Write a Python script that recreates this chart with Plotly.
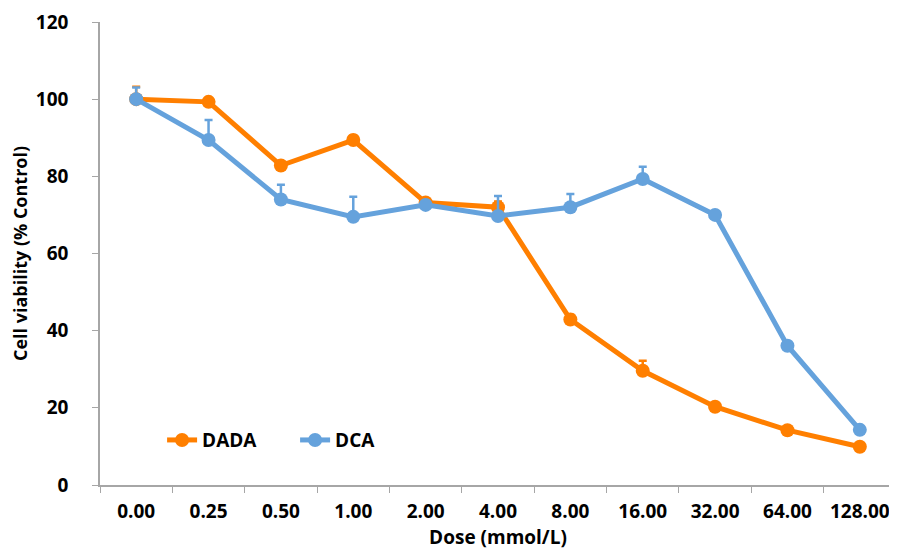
import plotly.graph_objects as go

doses = ["0.00", "0.25", "0.50", "1.00", "2.00", "4.00", "8.00", "16.00", "32.00", "64.00", "128.00"]
dada = [100.0, 99.3, 82.8, 89.4, 73.2, 72.0, 42.9, 29.6, 20.3, 14.2, 9.9]
dada_err = [3.2, 1.0, 1.0, 1.2, 1.0, 1.5, 1.2, 2.6, 0.8, 0.8, 0.5]
dca = [100.0, 89.4, 74.0, 69.5, 72.6, 69.7, 72.0, 79.3, 70.0, 36.1, 14.3]
dca_err = [3.0, 5.2, 3.8, 5.2, 1.0, 5.2, 3.4, 3.2, 0.8, 1.0, 0.8]

ORANGE = "#FF7F00"
BLUE = "#65A2DC"
FONT = "Open Sans"

fig = go.Figure()
for name, vals, errs, col in [("DADA", dada, dada_err, ORANGE), ("DCA", dca, dca_err, BLUE)]:
    fig.add_trace(go.Scatter(
        x=doses, y=vals, name=name, mode="lines+markers",
        line=dict(color=col, width=5),
        marker=dict(color=col, size=14),
        error_y=dict(type="data", symmetric=False, array=errs, arrayminus=[0] * len(errs),
                     color=col, thickness=2.5, width=4),
    ))

bold = dict(family=FONT, color="black", weight="bold")

fig.update_layout(
    width=889, height=542,
    margin=dict(l=92, r=1, t=14, b=65),
    paper_bgcolor="white", plot_bgcolor="white",
    font=dict(family=FONT, size=18, color="black"),
    showlegend=True,
    legend=dict(orientation="h", x=0.078, y=0.097, xanchor="left", yanchor="middle",
                font=dict(size=19, **bold),
                itemwidth=30, entrywidth=88, bgcolor="rgba(0,0,0,0)"),
    xaxis=dict(
        type="category", range=[-0.5, 10.5],
        showline=True, linecolor="#A6A6A6", linewidth=1.5,
        ticks="outside", tickson="boundaries", ticklen=6, tickcolor="#A6A6A6",
        showgrid=False, zeroline=False,
        ticklabelstandoff=8,
        tickfont=dict(size=19, **bold),
        title=dict(text="Dose (mmol/L)", standoff=4,
                   font=dict(size=19, **bold)),
    ),
    yaxis=dict(
        range=[0, 120], tickvals=[0, 20, 40, 60, 80, 100, 120],
        showline=True, linecolor="#A6A6A6", linewidth=1.5,
        ticks="outside", ticklen=6, tickcolor="#A6A6A6",
        showgrid=False, zeroline=False,
        ticklabelstandoff=20,
        tickfont=dict(size=19, **bold),
        title=dict(text="Cell viability (% Control)", standoff=8,
                   font=dict(size=18, **bold)),
    ),
)

fig.write_html("out.html")
